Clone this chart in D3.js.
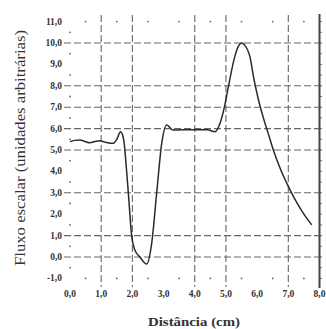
<!DOCTYPE html>
<html>
<head>
<meta charset="utf-8">
<script src="https://cdn.jsdelivr.net/npm/d3@7"></script>
<style>
  body { margin: 0; background: #fff; }
  svg { display: block; }
</style>
</head>
<body>
<script>
// curve (distance in cm, flux in arbitrary units)
const distance = [0.0, 0.15, 0.32, 0.48, 0.64, 0.8, 0.96, 1.1, 1.2, 1.38, 1.5, 1.62, 1.72, 1.8, 1.87,
  1.98, 2.08, 2.24, 2.46, 2.62, 2.78, 2.94, 3.1, 3.3, 3.6, 4.0, 4.4, 4.65, 4.8, 4.95,
  5.07, 5.29, 5.4, 5.5, 5.6, 5.77, 5.9, 6.05, 6.2, 6.35, 6.52, 6.75, 7.0, 7.25, 7.5, 7.75];
const flux = [5.39, 5.45, 5.47, 5.4, 5.34, 5.4, 5.43, 5.38, 5.34, 5.31, 5.5, 5.85, 5.5, 4.3, 3.0,
  0.95, 0.33, 0.0, -0.33, 0.65, 3.0, 5.3, 6.17, 5.93, 5.95, 5.95, 5.95, 5.85, 6.2, 7.0,
  7.9, 9.4, 9.85, 10.0, 9.9, 9.35, 8.3, 7.3, 6.5, 5.8, 5.0, 4.1, 3.3, 2.6, 2.0, 1.5];

const yTicks = [-1, 0, 1, 2, 3, 4, 5, 6, 7, 8, 9, 10, 11];
const xTicks = [0, 1, 2, 3, 4, 5, 6, 7, 8];
const yGrid = [0, 1, 3, 5, 6, 7, 8, 10];   // dashed lines that survive in the scan
const xGrid = [1, 2, 4, 5, 7];
const xTitle = "Distância (cm)";
const yTitle = "Fluxo escalar (unidades arbitrárias)";

const W = 326, H = 329;
const svg = d3.select("body").append("svg").attr("width", W).attr("height", H);

const x = d3.scaleLinear().domain([0, 8]).range([70, 319.5]);
const y = d3.scaleLinear().domain([0, 10]).range([257, 43]);

const fmt = v => d3.format(".1f")(v).replace(".", ",").replace("−", "-");
const ink = "#333";

// horizontal dashed grid
svg.append("g").selectAll("line").data(yGrid).join("line")
    .attr("x1", 64).attr("x2", 323)
    .attr("y1", d => y(d)).attr("y2", d => y(d))
    .attr("stroke", "#666").attr("stroke-width", 1.1)
    .attr("stroke-dasharray", "7,3");

// vertical dashed grid
svg.append("g").selectAll("line").data(xGrid).join("line")
    .attr("x1", d => x(d)).attr("x2", d => x(d))
    .attr("y1", 15).attr("y2", 287)
    .attr("stroke", "#666").attr("stroke-width", 1.1)
    .attr("stroke-dasharray", "7,3");

// right frame line
svg.append("line")
    .attr("x1", x(8)).attr("x2", x(8)).attr("y1", 14).attr("y2", 288)
    .attr("stroke", "#444").attr("stroke-width", 2);

// right side small ticks
svg.append("g").selectAll("line").data(d3.range(-1, 11.5, 0.5)).join("line")
    .attr("x1", x(8)).attr("x2", x(8) + 2.5)
    .attr("y1", d => y(d)).attr("y2", d => y(d))
    .attr("stroke", "#666").attr("stroke-width", 1);

// minor dots along left, top and bottom
const halfY = d3.range(-0.5, 11, 1);
svg.append("g").selectAll("circle").data(halfY).join("circle")
    .attr("cx", 70).attr("cy", d => y(d)).attr("r", 0.9).attr("fill", "#666");
const halfX = d3.range(0.5, 8, 1);
svg.append("g").selectAll("circle").data(halfX).join("circle")
    .attr("cx", d => x(d)).attr("cy", y(11)).attr("r", 0.9).attr("fill", "#666");
svg.append("g").selectAll("circle").data(halfX).join("circle")
    .attr("cx", d => x(d)).attr("cy", y(-1)).attr("r", 0.9).attr("fill", "#666");

// y tick labels
svg.append("g").selectAll("text").data(yTicks).join("text")
    .attr("x", 62).attr("y", d => y(d) + 3)
    .attr("text-anchor", "end")
    .attr("font-family", "'Liberation Serif', serif")
    .attr("font-size", 9.5).attr("font-weight", "bold")
    .attr("fill", ink)
    .text(d => fmt(d));

// x tick labels
svg.append("g").selectAll("text").data(xTicks).join("text")
    .attr("x", d => x(d)).attr("y", 297)
    .attr("text-anchor", "middle")
    .attr("font-family", "'Liberation Serif', serif")
    .attr("font-size", 9.5).attr("font-weight", "bold")
    .attr("fill", ink)
    .text(d => fmt(d));

// axis titles
svg.append("text")
    .attr("x", 194).attr("y", 326)
    .attr("text-anchor", "middle")
    .attr("font-family", "'Liberation Serif', serif")
    .attr("font-size", 13).attr("font-weight", "bold")
    .attr("textLength", 92).attr("lengthAdjust", "spacingAndGlyphs")
    .attr("fill", ink)
    .text(xTitle);

svg.append("text")
    .attr("transform", "translate(25,148) rotate(-90)")
    .attr("text-anchor", "middle")
    .attr("font-family", "'Liberation Serif', serif")
    .attr("font-size", 15.5)
    .attr("textLength", 236).attr("lengthAdjust", "spacingAndGlyphs")
    .attr("fill", ink)
    .text(yTitle);

// the flux curve
const line = d3.line()
    .x((d, i) => x(distance[i]))
    .y(d => y(d))
    .curve(d3.curveMonotoneX);

svg.append("path")
    .attr("d", line(flux))
    .attr("fill", "none")
    .attr("stroke", "#2a2a2a")
    .attr("stroke-width", 1.5);
</script>
</body>
</html>
